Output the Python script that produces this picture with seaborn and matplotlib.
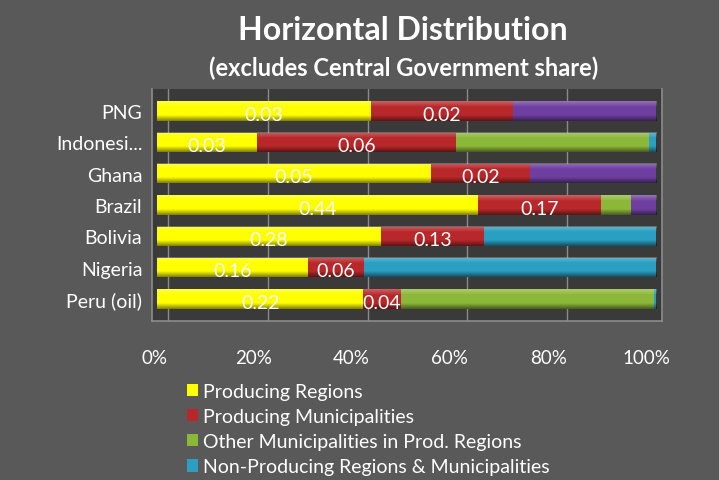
import numpy as np
import pandas as pd
import matplotlib
matplotlib.use("Agg")
import matplotlib.pyplot as plt
import matplotlib.transforms as mtransforms
from matplotlib.patches import Patch
import seaborn as sns

# Revenue shares by recipient tier (raw values; bars are normalised to 100%)
countries = ["PNG", "Indonesi...", "Ghana", "Brazil", "Bolivia", "Nigeria", "Peru (oil)"]
producing_regions = [0.03, 0.03, 0.05, 0.44, 0.28, 0.16, 0.22]
producing_municipalities = [0.02, 0.06, 0.018, 0.17, 0.13, 0.06, 0.04]
other_municipalities = [0.0, 0.058, 0.0, 0.04, 0.0, 0.0, 0.27]
non_producing = [0.0, 0.002, 0.0, 0.0, 0.215, 0.31, 0.002]
other_share = [0.02, 0.0, 0.023, 0.035, 0.0, 0.0, 0.0]

series_names = ["Producing Regions", "Producing Municipalities",
                "Other Municipalities in Prod. Regions",
                "Non-Producing Regions & Municipalities", "Other"]
series_values = [producing_regions, producing_municipalities,
                 other_municipalities, non_producing, other_share]
series_colors = ["#ffff00", "#b8282a", "#8cb83a", "#2a9fc2", "#6e3fa0"]
labelled_series = [0, 1]  # only the first two tiers carry value labels
tick_labels = ["0%", "20%", "40%", "60%", "80%", "100%"]

BG = "#595959"
WALL = "#3a3a3a"
sns.set_theme(style="dark")
plt.rcParams["font.family"] = ["Lato", "DejaVu Sans"]

df = pd.DataFrame({name: vals for name, vals in zip(series_names, series_values)},
                  index=countries)
totals = df.sum(axis=1)
pct = df.div(totals, axis=0) * 100
cum = pct.cumsum(axis=1)

fig = plt.figure(figsize=(7.19, 4.81), dpi=100, facecolor=BG)
ax = fig.add_axes([152 / 719, 159 / 481, 510 / 719, 232 / 481])
ax.set_facecolor(WALL)

# Stacked bars: draw cumulative totals from the outermost tier inwards
bar_w = 0.62
for i in range(len(series_names) - 1, -1, -1):
    sns.barplot(x=cum.iloc[:, i].values, y=countries, color=series_colors[i],
                orient="h", width=bar_w, saturation=1, ax=ax,
                linewidth=0, zorder=3)

# Cylinder shading laid over each full-length bar
full_bars = ax.patches[:len(countries)]
grad = np.linspace(0, 1, 64)
shade = np.zeros((64, 1, 4))
alpha = np.where(grad < 0.3, 0.45 * (1 - grad / 0.3),
                 np.where(grad > 0.7, 0.5 * (grad - 0.7) / 0.3, 0.0))
light = grad < 0.3
shade[:, 0, :3] = np.where(light[:, None], 1.0, 0.0)
shade[:, 0, 3] = alpha * np.where(light, 0.6, 1.0)
for p in full_bars:
    x0, y0 = p.get_x(), p.get_y()
    w, h = p.get_width(), p.get_height()
    ax.imshow(shade, extent=[x0, x0 + w, y0 + h, y0], aspect="auto",
              zorder=4, interpolation="bilinear")

# Value labels for the first two tiers
for i in labelled_series:
    for r, c in enumerate(countries):
        v = df.iloc[r, i]
        if v <= 0:
            continue
        left = cum.iloc[r, i] - pct.iloc[r, i]
        ax.text(left + pct.iloc[r, i] / 2, r + 0.1, f"{v:.2f}",
                ha="center", va="center", color="white", fontsize=14, zorder=6)

ax.set_xlim(-1.0, 101.2)
ax.set_ylim(6.7, -0.7)
ax.set_xticks([0, 20, 40, 60, 80, 100])
ax.set_xticklabels(tick_labels)
ax.set_xlabel("")
ax.set_ylabel("")
ax.tick_params(axis="x", colors="white", labelsize=13.5, pad=20, length=0)
ax.tick_params(axis="y", colors="white", labelsize=14, pad=7, length=0)

# Back-wall gridlines sit a little to the right of the floor ticks
ax.grid(axis="x", color="#8a8a8a", linewidth=1.0, zorder=1)
ax.grid(axis="y", visible=False)
shift = mtransforms.ScaledTranslation(11 / 100, 0, fig.dpi_scale_trans)
for gl in ax.xaxis.get_gridlines():
    gl.set_transform(gl.get_transform() + shift)
    gl.set_zorder(1)
ax.set_axisbelow(True)

# Floor tick labels sit slightly inward toward the front edge
for k, lbl in enumerate(ax.get_xticklabels()):
    dx = -(k * 1.5 + 2) / 100
    lbl.set_transform(lbl.get_transform()
                      + mtransforms.ScaledTranslation(dx, 0, fig.dpi_scale_trans))

for side, sp in ax.spines.items():
    sp.set_visible(True)
    sp.set_color("#8c8c8c")
    sp.set_linewidth(1.2)
ax.spines["top"].set_visible(False)

fig.text(403 / 719, 1 - 31 / 481, "Horizontal Distribution", ha="center",
         va="center", color="white", fontsize=23, fontweight="bold")
fig.text(404 / 719, 1 - 68 / 481, "(excludes Central Government share)",
         ha="center", va="center", color="white", fontsize=17, fontweight="bold")

handles = [Patch(facecolor=series_colors[i], edgecolor="none", label=series_names[i])
           for i in range(4)]
fig.legend(handles=handles, loc="upper left", bbox_to_anchor=(177 / 719, 1 - 374 / 481),
           frameon=False, fontsize=14, labelcolor="white", handlelength=0.6,
           handleheight=0.6, handletextpad=0.25, labelspacing=0.42, borderpad=0)

fig.savefig("out.png", dpi=100, facecolor=BG)
